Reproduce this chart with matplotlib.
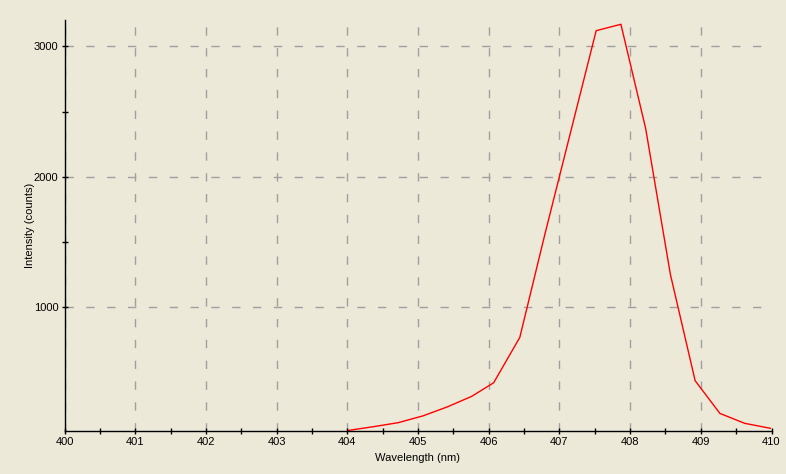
import matplotlib
matplotlib.use('agg')
import matplotlib.pyplot as plt
from matplotlib.ticker import MultipleLocator, FixedLocator

# spectrum
wavelength = [404.02, 404.37, 404.72, 405.07, 405.42, 405.76, 406.07, 406.44,
              406.80, 407.16, 407.52, 407.87, 408.22, 408.57, 408.92, 409.27,
              409.62, 410.00]
intensity = [54, 82, 113, 165, 235, 315, 419, 767,
             1570, 2345, 3120, 3169, 2370, 1250, 435, 184,
             108, 68]

x_major = [400, 401, 402, 403, 404, 405, 406, 407, 408, 409, 410]
y_major = [1000, 2000, 3000]
y_minor = [1500, 2500]

bg = '#ECE9D8'

plt.rcParams['font.family'] = ['Liberation Sans', 'DejaVu Sans']

fig = plt.figure(figsize=(7.86, 4.74), dpi=100, facecolor=bg)
ax = fig.add_axes([64.5 / 786, 43 / 474, 707 / 786, 411 / 474])
ax.set_facecolor(bg)

ax.plot(wavelength, intensity, color='#FF0000', linewidth=1.0)

ax.set_xlim(400, 410)
ax.set_ylim(49, 3202)

ax.set_xticks(x_major)
ax.xaxis.set_minor_locator(MultipleLocator(0.5))
ax.set_yticks(y_major)
ax.yaxis.set_minor_locator(FixedLocator(y_minor))

for side in ['top', 'right']:
    ax.spines[side].set_visible(False)
for side in ['left', 'bottom']:
    ax.spines[side].set_color('black')
    ax.spines[side].set_linewidth(1.0)

ax.tick_params(which='both', direction='inout', length=5, width=1,
               color='black', labelsize=8, labelcolor='black', pad=2)

ax.grid(True, which='major', color='#A0A0A0', linestyle=(0, (6, 9)),
        linewidth=1.0)
ax.set_axisbelow(True)

ax.set_xlabel("Wavelength (nm)", fontsize=8, labelpad=4)
ax.set_ylabel("Intensity (counts)", fontsize=8, labelpad=-1)

fig.savefig("out.png", dpi=100, facecolor=bg)
plt.close(fig)
